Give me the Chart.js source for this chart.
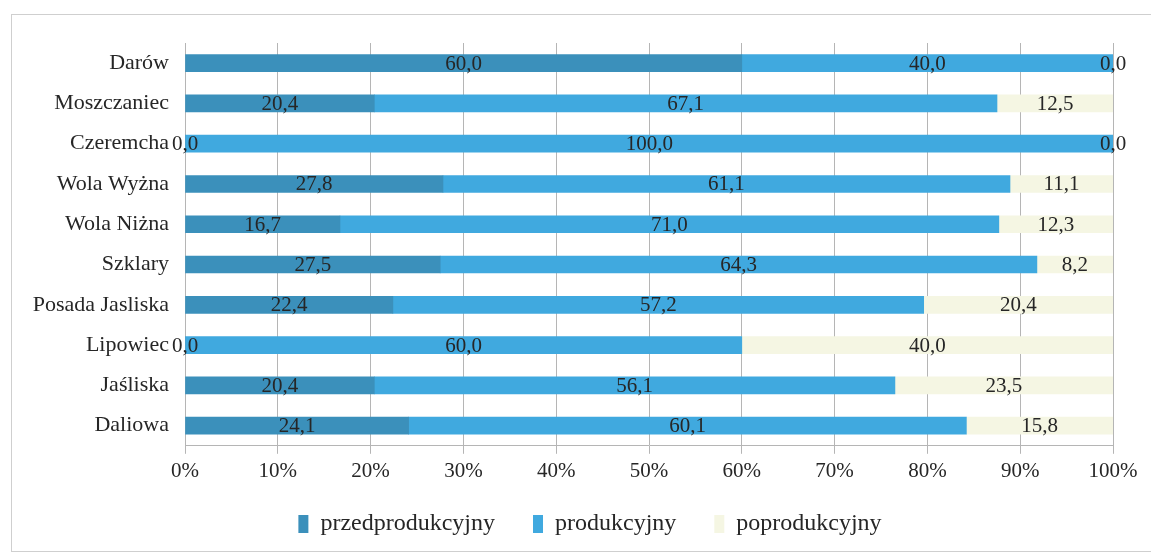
<!DOCTYPE html>
<html lang="pl">
  <head>
    <meta charset="UTF-8" />
    <title>Grupy wieku</title>
    <script src="https://cdn.jsdelivr.net/npm/chart.js"></script>
    <style>
      body {
        margin: 0;
        background: #fff;
      }
      .frame {
        position: absolute;
        left: 11px;
        top: 14px;
        width: 1139px;
        height: 536px;
        border: 1px solid #cfcfcf;
        border-right: none;
        pointer-events: none;
      }
      .chart-container {
        position: absolute;
        left: 0;
        top: 0;
        width: 1157px;
        height: 555px;
      }
    </style>
  </head>
  <body>
    <div class="chart-container">
      <canvas id="myChart" width="1157" height="555"></canvas>
    </div>
    <div class="frame"></div>

    <script>
      const villages = ['Darów', 'Moszczaniec', 'Czeremcha', 'Wola Wyżna', 'Wola Niżna',
        'Szklary', 'Posada Jasliska', 'Lipowiec', 'Jaśliska', 'Daliowa'];

      const przedprodukcyjny = [60.0, 20.4, 0.0, 27.8, 16.7, 27.5, 22.4, 0.0, 20.4, 24.1];
      const produkcyjny      = [40.0, 67.1, 100.0, 61.1, 71.0, 64.3, 57.2, 60.0, 56.1, 60.1];
      const poprodukcyjny    = [0.0, 12.5, 0.0, 11.1, 12.3, 8.2, 20.4, 40.0, 23.5, 15.8];

      const percentTicks = [0, 10, 20, 30, 40, 50, 60, 70, 80, 90, 100];

      const serif = 'Liberation Serif';
      const textColor = '#262626';

      // value labels in the middle of every segment, Polish decimal comma
      const segmentLabels = {
        id: 'segmentLabels',
        afterDatasetsDraw(chart) {
          const ctx = chart.ctx;
          ctx.save();
          ctx.font = '21px "' + serif + '"';
          ctx.fillStyle = textColor;
          ctx.textAlign = 'center';
          ctx.textBaseline = 'middle';
          chart.data.datasets.forEach((ds, i) => {
            const meta = chart.getDatasetMeta(i);
            meta.data.forEach((bar, j) => {
              const txt = ds.data[j].toFixed(1).replace('.', ',');
              ctx.fillText(txt, (bar.x + bar.base) / 2, bar.y + 1);
            });
          });
          ctx.restore();
        }
      };

      // legend in the original sits a bit right of the plot centre and higher
      const legendShift = {
        id: 'legendShift',
        afterLayout(chart) {
          const lg = chart.legend;
          if (!lg) return;
          lg.left = 67;
          lg.right = 1113;
          lg.top = 474;
        }
      };

      const ctx = document.getElementById('myChart').getContext('2d');

      const myChart = new Chart(ctx, {
        type: 'bar',
        data: {
          labels: villages,
          datasets: [
            { label: 'przedprodukcyjny', data: przedprodukcyjny, backgroundColor: '#3b90bb' },
            { label: 'produkcyjny', data: produkcyjny, backgroundColor: '#40a9df' },
            { label: 'poprodukcyjny', data: poprodukcyjny, backgroundColor: '#f5f6e3' }
          ]
        },
        options: {
          indexAxis: 'y',
          responsive: false,
          animation: false,
          barThickness: 17,
          layout: {
            padding: { left: 0, right: 44, top: 43, bottom: 0 }
          },
          scales: {
            x: {
              stacked: true,
              min: 0,
              max: 100,
              afterBuildTicks(axis) {
                axis.ticks = percentTicks.map(v => ({ value: v }));
              },
              grid: {
                color: '#b5b5b5',
                tickLength: 8,
                tickColor: '#b5b5b5'
              },
              border: { color: '#b5b5b5' },
              ticks: {
                padding: 5,
                color: textColor,
                font: { family: serif, size: 21 },
                callback: v => v + '%'
              }
            },
            y: {
              stacked: true,
              afterFit(axis) {
                axis.width = 185;
              },
              grid: { display: false },
              border: { display: false },
              ticks: {
                padding: 8,
                color: textColor,
                font: { family: serif, size: 22 }
              }
            }
          },
          plugins: {
            tooltip: { enabled: false },
            legend: {
              position: 'bottom',
              maxHeight: 66,
              labels: {
                boxWidth: 10,
                boxHeight: 18,
                padding: 38,
                color: textColor,
                font: { family: serif, size: 24 }
              }
            }
          }
        },
        plugins: [segmentLabels, legendShift]
      });
    </script>
  </body>
</html>
